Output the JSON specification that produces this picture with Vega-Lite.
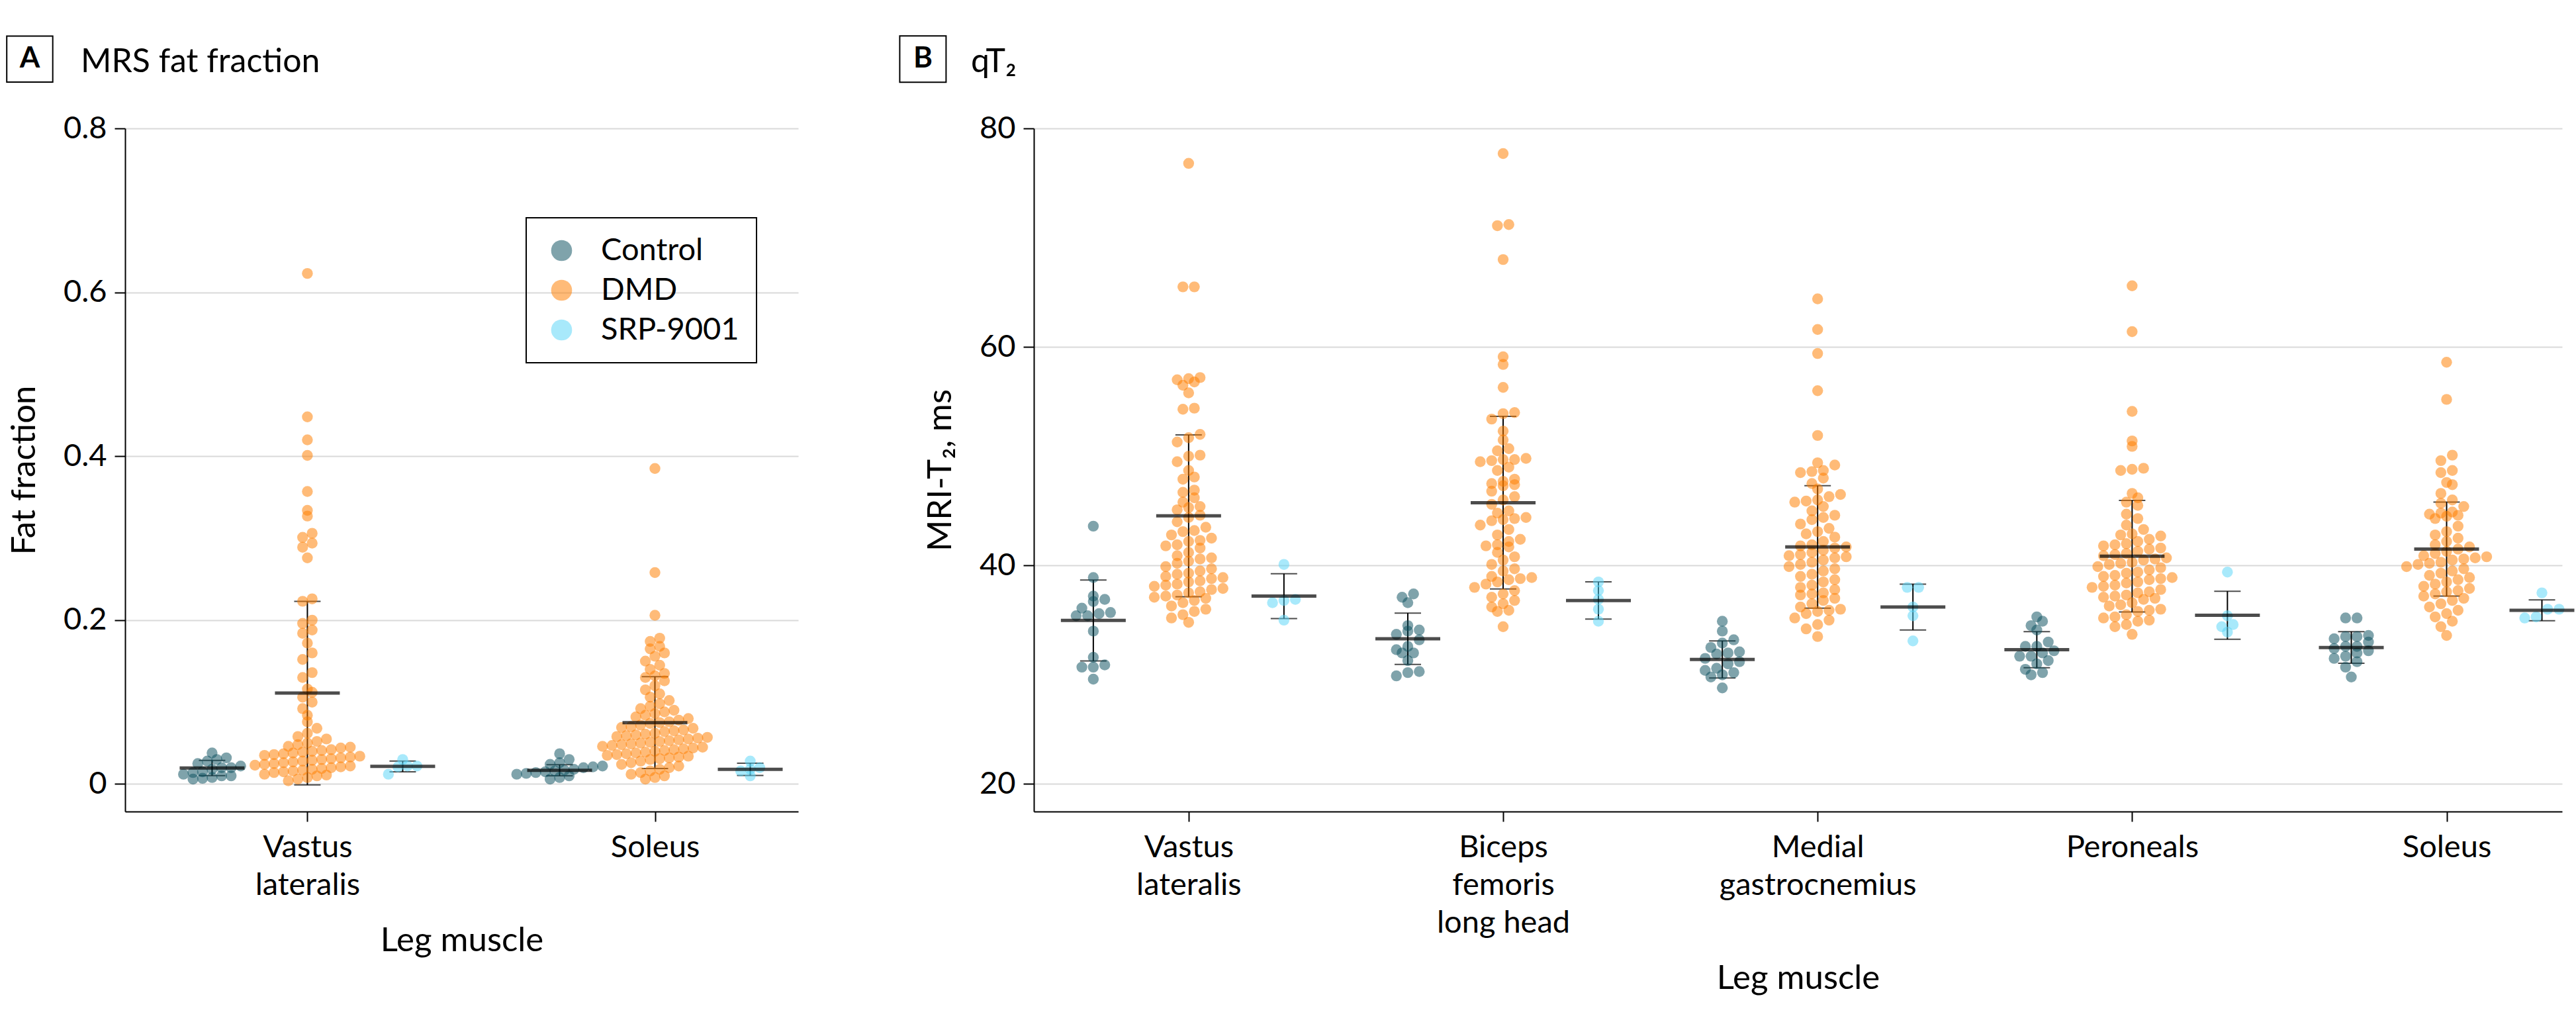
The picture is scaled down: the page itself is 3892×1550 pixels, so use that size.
{
 "$schema": "https://vega.github.io/schema/vega-lite/v6.json",
 "background": "white",
 "padding": {"left": 6, "top": 50, "right": 8, "bottom": 8},
 "bounds": "flush",
 "spacing": 356,
 "config": {
  "font": "Lato",
  "view": {"stroke": null},
  "axis": {"labelFontSize": 47, "titleFontSize": 51, "labelColor": "#000", "titleColor": "#000", "titleFontWeight": "normal", "domainColor": "#000", "domainWidth": 2, "tickColor": "#000", "tickWidth": 2, "gridColor": "#d9d9d9", "gridWidth": 2, "labelOverlap": false, "labelLimit": 1000},
  "axisX": {"grid": false, "tickSize": 15, "labelPadding": 16, "labelLineHeight": 57, "labelAngle": 0, "titlePadding": 36},
  "axisY": {"grid": true, "tickSize": 16, "labelPadding": 12, "titlePadding": 32, "labelFlush": false},
  "legend": {"strokeWidth": 2}
 },
 "resolve": {"scale": {"color": "independent"}, "legend": {"color": "independent"}},
 "datasets": {
  "statsA": [
   {"muscle": "Vastus lateralis", "group": "Control", "mean": 0.0195, "sd": 0.0093},
   {"muscle": "Vastus lateralis", "group": "DMD", "mean": 0.111, "sd": 0.112},
   {"muscle": "Vastus lateralis", "group": "SRP-9001", "mean": 0.0215, "sd": 0.0065},
   {"muscle": "Soleus", "group": "Control", "mean": 0.0168, "sd": 0.0068},
   {"muscle": "Soleus", "group": "DMD", "mean": 0.075, "sd": 0.056},
   {"muscle": "Soleus", "group": "SRP-9001", "mean": 0.018, "sd": 0.0075}
  ],
  "statsB": [
   {"muscle": "Vastus lateralis", "group": "Control", "mean": 34.97, "sd": 3.7},
   {"muscle": "Vastus lateralis", "group": "DMD", "mean": 44.55, "sd": 7.4},
   {"muscle": "Vastus lateralis", "group": "SRP-9001", "mean": 37.2, "sd": 2.05},
   {"muscle": "Biceps femoris long head", "group": "Control", "mean": 33.3, "sd": 2.35},
   {"muscle": "Biceps femoris long head", "group": "DMD", "mean": 45.75, "sd": 7.9},
   {"muscle": "Biceps femoris long head", "group": "SRP-9001", "mean": 36.8, "sd": 1.7},
   {"muscle": "Medial gastrocnemius", "group": "Control", "mean": 31.4, "sd": 1.7},
   {"muscle": "Medial gastrocnemius", "group": "DMD", "mean": 41.7, "sd": 5.6},
   {"muscle": "Medial gastrocnemius", "group": "SRP-9001", "mean": 36.2, "sd": 2.1},
   {"muscle": "Peroneals", "group": "Control", "mean": 32.3, "sd": 1.65},
   {"muscle": "Peroneals", "group": "DMD", "mean": 40.85, "sd": 5.1},
   {"muscle": "Peroneals", "group": "SRP-9001", "mean": 35.45, "sd": 2.2},
   {"muscle": "Soleus", "group": "Control", "mean": 32.5, "sd": 1.45},
   {"muscle": "Soleus", "group": "DMD", "mean": 41.5, "sd": 4.3},
   {"muscle": "Soleus", "group": "SRP-9001", "mean": 35.9, "sd": 0.95}
  ],
  "fatFraction": [
   {"muscle":"Vastus lateralis","group":"Control","value":0.038},
   {"muscle":"Vastus lateralis","group":"Control","value":0.032},
   {"muscle":"Vastus lateralis","group":"Control","value":0.03},
   {"muscle":"Vastus lateralis","group":"Control","value":0.028},
   {"muscle":"Vastus lateralis","group":"Control","value":0.025},
   {"muscle":"Vastus lateralis","group":"Control","value":0.022},
   {"muscle":"Vastus lateralis","group":"Control","value":0.02},
   {"muscle":"Vastus lateralis","group":"Control","value":0.02},
   {"muscle":"Vastus lateralis","group":"Control","value":0.018},
   {"muscle":"Vastus lateralis","group":"Control","value":0.015},
   {"muscle":"Vastus lateralis","group":"Control","value":0.014},
   {"muscle":"Vastus lateralis","group":"Control","value":0.012},
   {"muscle":"Vastus lateralis","group":"Control","value":0.01},
   {"muscle":"Vastus lateralis","group":"Control","value":0.01},
   {"muscle":"Vastus lateralis","group":"Control","value":0.008},
   {"muscle":"Vastus lateralis","group":"Control","value":0.007},
   {"muscle":"Vastus lateralis","group":"Control","value":0.006},
   {"muscle":"Vastus lateralis","group":"DMD","value":0.623},
   {"muscle":"Vastus lateralis","group":"DMD","value":0.448},
   {"muscle":"Vastus lateralis","group":"DMD","value":0.42},
   {"muscle":"Vastus lateralis","group":"DMD","value":0.401},
   {"muscle":"Vastus lateralis","group":"DMD","value":0.357},
   {"muscle":"Vastus lateralis","group":"DMD","value":0.334},
   {"muscle":"Vastus lateralis","group":"DMD","value":0.327},
   {"muscle":"Vastus lateralis","group":"DMD","value":0.306},
   {"muscle":"Vastus lateralis","group":"DMD","value":0.301},
   {"muscle":"Vastus lateralis","group":"DMD","value":0.294},
   {"muscle":"Vastus lateralis","group":"DMD","value":0.289},
   {"muscle":"Vastus lateralis","group":"DMD","value":0.276},
   {"muscle":"Vastus lateralis","group":"DMD","value":0.226},
   {"muscle":"Vastus lateralis","group":"DMD","value":0.223},
   {"muscle":"Vastus lateralis","group":"DMD","value":0.2},
   {"muscle":"Vastus lateralis","group":"DMD","value":0.196},
   {"muscle":"Vastus lateralis","group":"DMD","value":0.188},
   {"muscle":"Vastus lateralis","group":"DMD","value":0.184},
   {"muscle":"Vastus lateralis","group":"DMD","value":0.172},
   {"muscle":"Vastus lateralis","group":"DMD","value":0.16},
   {"muscle":"Vastus lateralis","group":"DMD","value":0.152},
   {"muscle":"Vastus lateralis","group":"DMD","value":0.136},
   {"muscle":"Vastus lateralis","group":"DMD","value":0.13},
   {"muscle":"Vastus lateralis","group":"DMD","value":0.116},
   {"muscle":"Vastus lateralis","group":"DMD","value":0.112},
   {"muscle":"Vastus lateralis","group":"DMD","value":0.106},
   {"muscle":"Vastus lateralis","group":"DMD","value":0.1},
   {"muscle":"Vastus lateralis","group":"DMD","value":0.092},
   {"muscle":"Vastus lateralis","group":"DMD","value":0.084},
   {"muscle":"Vastus lateralis","group":"DMD","value":0.076},
   {"muscle":"Vastus lateralis","group":"DMD","value":0.068},
   {"muscle":"Vastus lateralis","group":"DMD","value":0.062},
   {"muscle":"Vastus lateralis","group":"DMD","value":0.058},
   {"muscle":"Vastus lateralis","group":"DMD","value":0.055},
   {"muscle":"Vastus lateralis","group":"DMD","value":0.052},
   {"muscle":"Vastus lateralis","group":"DMD","value":0.05},
   {"muscle":"Vastus lateralis","group":"DMD","value":0.048},
   {"muscle":"Vastus lateralis","group":"DMD","value":0.046},
   {"muscle":"Vastus lateralis","group":"DMD","value":0.045},
   {"muscle":"Vastus lateralis","group":"DMD","value":0.044},
   {"muscle":"Vastus lateralis","group":"DMD","value":0.042},
   {"muscle":"Vastus lateralis","group":"DMD","value":0.041},
   {"muscle":"Vastus lateralis","group":"DMD","value":0.04},
   {"muscle":"Vastus lateralis","group":"DMD","value":0.039},
   {"muscle":"Vastus lateralis","group":"DMD","value":0.038},
   {"muscle":"Vastus lateralis","group":"DMD","value":0.037},
   {"muscle":"Vastus lateralis","group":"DMD","value":0.036},
   {"muscle":"Vastus lateralis","group":"DMD","value":0.035},
   {"muscle":"Vastus lateralis","group":"DMD","value":0.034},
   {"muscle":"Vastus lateralis","group":"DMD","value":0.033},
   {"muscle":"Vastus lateralis","group":"DMD","value":0.032},
   {"muscle":"Vastus lateralis","group":"DMD","value":0.031},
   {"muscle":"Vastus lateralis","group":"DMD","value":0.03},
   {"muscle":"Vastus lateralis","group":"DMD","value":0.029},
   {"muscle":"Vastus lateralis","group":"DMD","value":0.028},
   {"muscle":"Vastus lateralis","group":"DMD","value":0.027},
   {"muscle":"Vastus lateralis","group":"DMD","value":0.026},
   {"muscle":"Vastus lateralis","group":"DMD","value":0.025},
   {"muscle":"Vastus lateralis","group":"DMD","value":0.024},
   {"muscle":"Vastus lateralis","group":"DMD","value":0.023},
   {"muscle":"Vastus lateralis","group":"DMD","value":0.022},
   {"muscle":"Vastus lateralis","group":"DMD","value":0.021},
   {"muscle":"Vastus lateralis","group":"DMD","value":0.02},
   {"muscle":"Vastus lateralis","group":"DMD","value":0.019},
   {"muscle":"Vastus lateralis","group":"DMD","value":0.018},
   {"muscle":"Vastus lateralis","group":"DMD","value":0.017},
   {"muscle":"Vastus lateralis","group":"DMD","value":0.016},
   {"muscle":"Vastus lateralis","group":"DMD","value":0.015},
   {"muscle":"Vastus lateralis","group":"DMD","value":0.014},
   {"muscle":"Vastus lateralis","group":"DMD","value":0.012},
   {"muscle":"Vastus lateralis","group":"DMD","value":0.011},
   {"muscle":"Vastus lateralis","group":"DMD","value":0.01},
   {"muscle":"Vastus lateralis","group":"DMD","value":0.008},
   {"muscle":"Vastus lateralis","group":"DMD","value":0.006},
   {"muscle":"Vastus lateralis","group":"DMD","value":0.004},
   {"muscle":"Vastus lateralis","group":"SRP-9001","value":0.03},
   {"muscle":"Vastus lateralis","group":"SRP-9001","value":0.012},
   {"muscle":"Vastus lateralis","group":"SRP-9001","value":0.022},
   {"muscle":"Vastus lateralis","group":"SRP-9001","value":0.021},
   {"muscle":"Vastus lateralis","group":"SRP-9001","value":0.022},
   {"muscle":"Soleus","group":"Control","value":0.037},
   {"muscle":"Soleus","group":"Control","value":0.03},
   {"muscle":"Soleus","group":"Control","value":0.026},
   {"muscle":"Soleus","group":"Control","value":0.024},
   {"muscle":"Soleus","group":"Control","value":0.022},
   {"muscle":"Soleus","group":"Control","value":0.021},
   {"muscle":"Soleus","group":"Control","value":0.02},
   {"muscle":"Soleus","group":"Control","value":0.018},
   {"muscle":"Soleus","group":"Control","value":0.017},
   {"muscle":"Soleus","group":"Control","value":0.016},
   {"muscle":"Soleus","group":"Control","value":0.015},
   {"muscle":"Soleus","group":"Control","value":0.014},
   {"muscle":"Soleus","group":"Control","value":0.013},
   {"muscle":"Soleus","group":"Control","value":0.012},
   {"muscle":"Soleus","group":"Control","value":0.01},
   {"muscle":"Soleus","group":"Control","value":0.008},
   {"muscle":"Soleus","group":"Control","value":0.006},
   {"muscle":"Soleus","group":"DMD","value":0.385},
   {"muscle":"Soleus","group":"DMD","value":0.258},
   {"muscle":"Soleus","group":"DMD","value":0.206},
   {"muscle":"Soleus","group":"DMD","value":0.178},
   {"muscle":"Soleus","group":"DMD","value":0.174},
   {"muscle":"Soleus","group":"DMD","value":0.168},
   {"muscle":"Soleus","group":"DMD","value":0.165},
   {"muscle":"Soleus","group":"DMD","value":0.16},
   {"muscle":"Soleus","group":"DMD","value":0.156},
   {"muscle":"Soleus","group":"DMD","value":0.15},
   {"muscle":"Soleus","group":"DMD","value":0.145},
   {"muscle":"Soleus","group":"DMD","value":0.14},
   {"muscle":"Soleus","group":"DMD","value":0.135},
   {"muscle":"Soleus","group":"DMD","value":0.132},
   {"muscle":"Soleus","group":"DMD","value":0.13},
   {"muscle":"Soleus","group":"DMD","value":0.126},
   {"muscle":"Soleus","group":"DMD","value":0.12},
   {"muscle":"Soleus","group":"DMD","value":0.115},
   {"muscle":"Soleus","group":"DMD","value":0.11},
   {"muscle":"Soleus","group":"DMD","value":0.106},
   {"muscle":"Soleus","group":"DMD","value":0.102},
   {"muscle":"Soleus","group":"DMD","value":0.098},
   {"muscle":"Soleus","group":"DMD","value":0.095},
   {"muscle":"Soleus","group":"DMD","value":0.092},
   {"muscle":"Soleus","group":"DMD","value":0.09},
   {"muscle":"Soleus","group":"DMD","value":0.088},
   {"muscle":"Soleus","group":"DMD","value":0.086},
   {"muscle":"Soleus","group":"DMD","value":0.084},
   {"muscle":"Soleus","group":"DMD","value":0.082},
   {"muscle":"Soleus","group":"DMD","value":0.08},
   {"muscle":"Soleus","group":"DMD","value":0.078},
   {"muscle":"Soleus","group":"DMD","value":0.076},
   {"muscle":"Soleus","group":"DMD","value":0.075},
   {"muscle":"Soleus","group":"DMD","value":0.074},
   {"muscle":"Soleus","group":"DMD","value":0.072},
   {"muscle":"Soleus","group":"DMD","value":0.07},
   {"muscle":"Soleus","group":"DMD","value":0.069},
   {"muscle":"Soleus","group":"DMD","value":0.068},
   {"muscle":"Soleus","group":"DMD","value":0.066},
   {"muscle":"Soleus","group":"DMD","value":0.065},
   {"muscle":"Soleus","group":"DMD","value":0.064},
   {"muscle":"Soleus","group":"DMD","value":0.062},
   {"muscle":"Soleus","group":"DMD","value":0.061},
   {"muscle":"Soleus","group":"DMD","value":0.06},
   {"muscle":"Soleus","group":"DMD","value":0.059},
   {"muscle":"Soleus","group":"DMD","value":0.058},
   {"muscle":"Soleus","group":"DMD","value":0.057},
   {"muscle":"Soleus","group":"DMD","value":0.056},
   {"muscle":"Soleus","group":"DMD","value":0.055},
   {"muscle":"Soleus","group":"DMD","value":0.054},
   {"muscle":"Soleus","group":"DMD","value":0.053},
   {"muscle":"Soleus","group":"DMD","value":0.052},
   {"muscle":"Soleus","group":"DMD","value":0.051},
   {"muscle":"Soleus","group":"DMD","value":0.05},
   {"muscle":"Soleus","group":"DMD","value":0.049},
   {"muscle":"Soleus","group":"DMD","value":0.048},
   {"muscle":"Soleus","group":"DMD","value":0.047},
   {"muscle":"Soleus","group":"DMD","value":0.046},
   {"muscle":"Soleus","group":"DMD","value":0.045},
   {"muscle":"Soleus","group":"DMD","value":0.044},
   {"muscle":"Soleus","group":"DMD","value":0.043},
   {"muscle":"Soleus","group":"DMD","value":0.042},
   {"muscle":"Soleus","group":"DMD","value":0.041},
   {"muscle":"Soleus","group":"DMD","value":0.04},
   {"muscle":"Soleus","group":"DMD","value":0.039},
   {"muscle":"Soleus","group":"DMD","value":0.038},
   {"muscle":"Soleus","group":"DMD","value":0.037},
   {"muscle":"Soleus","group":"DMD","value":0.036},
   {"muscle":"Soleus","group":"DMD","value":0.035},
   {"muscle":"Soleus","group":"DMD","value":0.034},
   {"muscle":"Soleus","group":"DMD","value":0.033},
   {"muscle":"Soleus","group":"DMD","value":0.032},
   {"muscle":"Soleus","group":"DMD","value":0.031},
   {"muscle":"Soleus","group":"DMD","value":0.03},
   {"muscle":"Soleus","group":"DMD","value":0.028},
   {"muscle":"Soleus","group":"DMD","value":0.026},
   {"muscle":"Soleus","group":"DMD","value":0.024},
   {"muscle":"Soleus","group":"DMD","value":0.022},
   {"muscle":"Soleus","group":"DMD","value":0.02},
   {"muscle":"Soleus","group":"DMD","value":0.018},
   {"muscle":"Soleus","group":"DMD","value":0.016},
   {"muscle":"Soleus","group":"DMD","value":0.014},
   {"muscle":"Soleus","group":"DMD","value":0.012},
   {"muscle":"Soleus","group":"DMD","value":0.01},
   {"muscle":"Soleus","group":"DMD","value":0.008},
   {"muscle":"Soleus","group":"DMD","value":0.006},
   {"muscle":"Soleus","group":"SRP-9001","value":0.028},
   {"muscle":"Soleus","group":"SRP-9001","value":0.01},
   {"muscle":"Soleus","group":"SRP-9001","value":0.02},
   {"muscle":"Soleus","group":"SRP-9001","value":0.016},
   {"muscle":"Soleus","group":"SRP-9001","value":0.018}
  ],
  "t2": [
   {"muscle":"Vastus lateralis","group":"Control","value":43.6},
   {"muscle":"Vastus lateralis","group":"Control","value":38.9},
   {"muscle":"Vastus lateralis","group":"Control","value":37.2},
   {"muscle":"Vastus lateralis","group":"Control","value":36.9},
   {"muscle":"Vastus lateralis","group":"Control","value":36.7},
   {"muscle":"Vastus lateralis","group":"Control","value":36.1},
   {"muscle":"Vastus lateralis","group":"Control","value":35.7},
   {"muscle":"Vastus lateralis","group":"Control","value":35.6},
   {"muscle":"Vastus lateralis","group":"Control","value":35.4},
   {"muscle":"Vastus lateralis","group":"Control","value":35.4},
   {"muscle":"Vastus lateralis","group":"Control","value":34.0},
   {"muscle":"Vastus lateralis","group":"Control","value":31.6},
   {"muscle":"Vastus lateralis","group":"Control","value":30.9},
   {"muscle":"Vastus lateralis","group":"Control","value":30.7},
   {"muscle":"Vastus lateralis","group":"Control","value":30.7},
   {"muscle":"Vastus lateralis","group":"Control","value":29.6},
   {"muscle":"Vastus lateralis","group":"DMD","value":76.8},
   {"muscle":"Vastus lateralis","group":"DMD","value":65.5},
   {"muscle":"Vastus lateralis","group":"DMD","value":65.5},
   {"muscle":"Vastus lateralis","group":"DMD","value":57.2},
   {"muscle":"Vastus lateralis","group":"DMD","value":57.1},
   {"muscle":"Vastus lateralis","group":"DMD","value":57.0},
   {"muscle":"Vastus lateralis","group":"DMD","value":56.8},
   {"muscle":"Vastus lateralis","group":"DMD","value":56.5},
   {"muscle":"Vastus lateralis","group":"DMD","value":55.8},
   {"muscle":"Vastus lateralis","group":"DMD","value":54.4},
   {"muscle":"Vastus lateralis","group":"DMD","value":54.3},
   {"muscle":"Vastus lateralis","group":"DMD","value":52.0},
   {"muscle":"Vastus lateralis","group":"DMD","value":51.7},
   {"muscle":"Vastus lateralis","group":"DMD","value":51.3},
   {"muscle":"Vastus lateralis","group":"DMD","value":50.1},
   {"muscle":"Vastus lateralis","group":"DMD","value":50.0},
   {"muscle":"Vastus lateralis","group":"DMD","value":49.5},
   {"muscle":"Vastus lateralis","group":"DMD","value":48.7},
   {"muscle":"Vastus lateralis","group":"DMD","value":48.1},
   {"muscle":"Vastus lateralis","group":"DMD","value":47.9},
   {"muscle":"Vastus lateralis","group":"DMD","value":46.9},
   {"muscle":"Vastus lateralis","group":"DMD","value":46.7},
   {"muscle":"Vastus lateralis","group":"DMD","value":46.2},
   {"muscle":"Vastus lateralis","group":"DMD","value":45.8},
   {"muscle":"Vastus lateralis","group":"DMD","value":45.4},
   {"muscle":"Vastus lateralis","group":"DMD","value":45.3},
   {"muscle":"Vastus lateralis","group":"DMD","value":45.1},
   {"muscle":"Vastus lateralis","group":"DMD","value":44.6},
   {"muscle":"Vastus lateralis","group":"DMD","value":44.4},
   {"muscle":"Vastus lateralis","group":"DMD","value":44.0},
   {"muscle":"Vastus lateralis","group":"DMD","value":43.5},
   {"muscle":"Vastus lateralis","group":"DMD","value":43.2},
   {"muscle":"Vastus lateralis","group":"DMD","value":43.1},
   {"muscle":"Vastus lateralis","group":"DMD","value":42.8},
   {"muscle":"Vastus lateralis","group":"DMD","value":42.5},
   {"muscle":"Vastus lateralis","group":"DMD","value":42.3},
   {"muscle":"Vastus lateralis","group":"DMD","value":42.2},
   {"muscle":"Vastus lateralis","group":"DMD","value":41.9},
   {"muscle":"Vastus lateralis","group":"DMD","value":41.8},
   {"muscle":"Vastus lateralis","group":"DMD","value":41.6},
   {"muscle":"Vastus lateralis","group":"DMD","value":41.2},
   {"muscle":"Vastus lateralis","group":"DMD","value":40.9},
   {"muscle":"Vastus lateralis","group":"DMD","value":40.7},
   {"muscle":"Vastus lateralis","group":"DMD","value":40.6},
   {"muscle":"Vastus lateralis","group":"DMD","value":40.4},
   {"muscle":"Vastus lateralis","group":"DMD","value":40.2},
   {"muscle":"Vastus lateralis","group":"DMD","value":39.9},
   {"muscle":"Vastus lateralis","group":"DMD","value":39.7},
   {"muscle":"Vastus lateralis","group":"DMD","value":39.5},
   {"muscle":"Vastus lateralis","group":"DMD","value":39.3},
   {"muscle":"Vastus lateralis","group":"DMD","value":39.2},
   {"muscle":"Vastus lateralis","group":"DMD","value":39.0},
   {"muscle":"Vastus lateralis","group":"DMD","value":38.9},
   {"muscle":"Vastus lateralis","group":"DMD","value":38.8},
   {"muscle":"Vastus lateralis","group":"DMD","value":38.6},
   {"muscle":"Vastus lateralis","group":"DMD","value":38.5},
   {"muscle":"Vastus lateralis","group":"DMD","value":38.3},
   {"muscle":"Vastus lateralis","group":"DMD","value":38.2},
   {"muscle":"Vastus lateralis","group":"DMD","value":38.1},
   {"muscle":"Vastus lateralis","group":"DMD","value":37.9},
   {"muscle":"Vastus lateralis","group":"DMD","value":37.8},
   {"muscle":"Vastus lateralis","group":"DMD","value":37.6},
   {"muscle":"Vastus lateralis","group":"DMD","value":37.5},
   {"muscle":"Vastus lateralis","group":"DMD","value":37.3},
   {"muscle":"Vastus lateralis","group":"DMD","value":37.2},
   {"muscle":"Vastus lateralis","group":"DMD","value":37.1},
   {"muscle":"Vastus lateralis","group":"DMD","value":37.0},
   {"muscle":"Vastus lateralis","group":"DMD","value":36.8},
   {"muscle":"Vastus lateralis","group":"DMD","value":36.6},
   {"muscle":"Vastus lateralis","group":"DMD","value":36.3},
   {"muscle":"Vastus lateralis","group":"DMD","value":36.0},
   {"muscle":"Vastus lateralis","group":"DMD","value":35.8},
   {"muscle":"Vastus lateralis","group":"DMD","value":35.5},
   {"muscle":"Vastus lateralis","group":"DMD","value":35.2},
   {"muscle":"Vastus lateralis","group":"DMD","value":34.8},
   {"muscle":"Vastus lateralis","group":"SRP-9001","value":40.1},
   {"muscle":"Vastus lateralis","group":"SRP-9001","value":36.8},
   {"muscle":"Vastus lateralis","group":"SRP-9001","value":36.6},
   {"muscle":"Vastus lateralis","group":"SRP-9001","value":35.0},
   {"muscle":"Vastus lateralis","group":"SRP-9001","value":36.9},
   {"muscle":"Biceps femoris long head","group":"Control","value":37.4},
   {"muscle":"Biceps femoris long head","group":"Control","value":37.1},
   {"muscle":"Biceps femoris long head","group":"Control","value":36.6},
   {"muscle":"Biceps femoris long head","group":"Control","value":34.5},
   {"muscle":"Biceps femoris long head","group":"Control","value":34.1},
   {"muscle":"Biceps femoris long head","group":"Control","value":34.0},
   {"muscle":"Biceps femoris long head","group":"Control","value":33.7},
   {"muscle":"Biceps femoris long head","group":"Control","value":33.2},
   {"muscle":"Biceps femoris long head","group":"Control","value":32.6},
   {"muscle":"Biceps femoris long head","group":"Control","value":32.3},
   {"muscle":"Biceps femoris long head","group":"Control","value":32.0},
   {"muscle":"Biceps femoris long head","group":"Control","value":32.0},
   {"muscle":"Biceps femoris long head","group":"Control","value":31.3},
   {"muscle":"Biceps femoris long head","group":"Control","value":30.3},
   {"muscle":"Biceps femoris long head","group":"Control","value":30.2},
   {"muscle":"Biceps femoris long head","group":"Control","value":29.9},
   {"muscle":"Biceps femoris long head","group":"DMD","value":77.7},
   {"muscle":"Biceps femoris long head","group":"DMD","value":71.2},
   {"muscle":"Biceps femoris long head","group":"DMD","value":71.1},
   {"muscle":"Biceps femoris long head","group":"DMD","value":68.0},
   {"muscle":"Biceps femoris long head","group":"DMD","value":59.1},
   {"muscle":"Biceps femoris long head","group":"DMD","value":58.4},
   {"muscle":"Biceps femoris long head","group":"DMD","value":56.3},
   {"muscle":"Biceps femoris long head","group":"DMD","value":54.0},
   {"muscle":"Biceps femoris long head","group":"DMD","value":53.9},
   {"muscle":"Biceps femoris long head","group":"DMD","value":53.4},
   {"muscle":"Biceps femoris long head","group":"DMD","value":52.3},
   {"muscle":"Biceps femoris long head","group":"DMD","value":51.5},
   {"muscle":"Biceps femoris long head","group":"DMD","value":50.7},
   {"muscle":"Biceps femoris long head","group":"DMD","value":50.5},
   {"muscle":"Biceps femoris long head","group":"DMD","value":49.8},
   {"muscle":"Biceps femoris long head","group":"DMD","value":49.7},
   {"muscle":"Biceps femoris long head","group":"DMD","value":49.7},
   {"muscle":"Biceps femoris long head","group":"DMD","value":49.6},
   {"muscle":"Biceps femoris long head","group":"DMD","value":49.5},
   {"muscle":"Biceps femoris long head","group":"DMD","value":49.0},
   {"muscle":"Biceps femoris long head","group":"DMD","value":48.7},
   {"muscle":"Biceps femoris long head","group":"DMD","value":47.9},
   {"muscle":"Biceps femoris long head","group":"DMD","value":47.7},
   {"muscle":"Biceps femoris long head","group":"DMD","value":47.5},
   {"muscle":"Biceps femoris long head","group":"DMD","value":47.4},
   {"muscle":"Biceps femoris long head","group":"DMD","value":47.3},
   {"muscle":"Biceps femoris long head","group":"DMD","value":46.8},
   {"muscle":"Biceps femoris long head","group":"DMD","value":46.3},
   {"muscle":"Biceps femoris long head","group":"DMD","value":46.0},
   {"muscle":"Biceps femoris long head","group":"DMD","value":45.6},
   {"muscle":"Biceps femoris long head","group":"DMD","value":45.0},
   {"muscle":"Biceps femoris long head","group":"DMD","value":44.8},
   {"muscle":"Biceps femoris long head","group":"DMD","value":44.4},
   {"muscle":"Biceps femoris long head","group":"DMD","value":44.3},
   {"muscle":"Biceps femoris long head","group":"DMD","value":44.2},
   {"muscle":"Biceps femoris long head","group":"DMD","value":44.1},
   {"muscle":"Biceps femoris long head","group":"DMD","value":43.7},
   {"muscle":"Biceps femoris long head","group":"DMD","value":43.3},
   {"muscle":"Biceps femoris long head","group":"DMD","value":42.8},
   {"muscle":"Biceps femoris long head","group":"DMD","value":42.4},
   {"muscle":"Biceps femoris long head","group":"DMD","value":42.2},
   {"muscle":"Biceps femoris long head","group":"DMD","value":41.9},
   {"muscle":"Biceps femoris long head","group":"DMD","value":41.8},
   {"muscle":"Biceps femoris long head","group":"DMD","value":41.7},
   {"muscle":"Biceps femoris long head","group":"DMD","value":41.2},
   {"muscle":"Biceps femoris long head","group":"DMD","value":40.8},
   {"muscle":"Biceps femoris long head","group":"DMD","value":40.5},
   {"muscle":"Biceps femoris long head","group":"DMD","value":40.1},
   {"muscle":"Biceps femoris long head","group":"DMD","value":39.7},
   {"muscle":"Biceps femoris long head","group":"DMD","value":39.5},
   {"muscle":"Biceps femoris long head","group":"DMD","value":39.0},
   {"muscle":"Biceps femoris long head","group":"DMD","value":38.9},
   {"muscle":"Biceps femoris long head","group":"DMD","value":38.8},
   {"muscle":"Biceps femoris long head","group":"DMD","value":38.7},
   {"muscle":"Biceps femoris long head","group":"DMD","value":38.5},
   {"muscle":"Biceps femoris long head","group":"DMD","value":38.3},
   {"muscle":"Biceps femoris long head","group":"DMD","value":38.0},
   {"muscle":"Biceps femoris long head","group":"DMD","value":37.7},
   {"muscle":"Biceps femoris long head","group":"DMD","value":37.4},
   {"muscle":"Biceps femoris long head","group":"DMD","value":37.1},
   {"muscle":"Biceps femoris long head","group":"DMD","value":36.8},
   {"muscle":"Biceps femoris long head","group":"DMD","value":36.5},
   {"muscle":"Biceps femoris long head","group":"DMD","value":36.2},
   {"muscle":"Biceps femoris long head","group":"DMD","value":35.9},
   {"muscle":"Biceps femoris long head","group":"DMD","value":35.8},
   {"muscle":"Biceps femoris long head","group":"DMD","value":34.4},
   {"muscle":"Biceps femoris long head","group":"SRP-9001","value":38.5},
   {"muscle":"Biceps femoris long head","group":"SRP-9001","value":37.7},
   {"muscle":"Biceps femoris long head","group":"SRP-9001","value":36.0},
   {"muscle":"Biceps femoris long head","group":"SRP-9001","value":34.9},
   {"muscle":"Biceps femoris long head","group":"SRP-9001","value":36.9},
   {"muscle":"Medial gastrocnemius","group":"Control","value":34.9},
   {"muscle":"Medial gastrocnemius","group":"Control","value":34.0},
   {"muscle":"Medial gastrocnemius","group":"Control","value":33.2},
   {"muscle":"Medial gastrocnemius","group":"Control","value":32.9},
   {"muscle":"Medial gastrocnemius","group":"Control","value":32.5},
   {"muscle":"Medial gastrocnemius","group":"Control","value":32.1},
   {"muscle":"Medial gastrocnemius","group":"Control","value":32.0},
   {"muscle":"Medial gastrocnemius","group":"Control","value":31.9},
   {"muscle":"Medial gastrocnemius","group":"Control","value":31.5},
   {"muscle":"Medial gastrocnemius","group":"Control","value":31.2},
   {"muscle":"Medial gastrocnemius","group":"Control","value":31.0},
   {"muscle":"Medial gastrocnemius","group":"Control","value":30.6},
   {"muscle":"Medial gastrocnemius","group":"Control","value":30.4},
   {"muscle":"Medial gastrocnemius","group":"Control","value":30.2},
   {"muscle":"Medial gastrocnemius","group":"Control","value":30.0},
   {"muscle":"Medial gastrocnemius","group":"Control","value":29.8},
   {"muscle":"Medial gastrocnemius","group":"Control","value":28.8},
   {"muscle":"Medial gastrocnemius","group":"DMD","value":64.4},
   {"muscle":"Medial gastrocnemius","group":"DMD","value":61.6},
   {"muscle":"Medial gastrocnemius","group":"DMD","value":59.4},
   {"muscle":"Medial gastrocnemius","group":"DMD","value":56.0},
   {"muscle":"Medial gastrocnemius","group":"DMD","value":51.9},
   {"muscle":"Medial gastrocnemius","group":"DMD","value":49.4},
   {"muscle":"Medial gastrocnemius","group":"DMD","value":49.2},
   {"muscle":"Medial gastrocnemius","group":"DMD","value":48.7},
   {"muscle":"Medial gastrocnemius","group":"DMD","value":48.6},
   {"muscle":"Medial gastrocnemius","group":"DMD","value":48.5},
   {"muscle":"Medial gastrocnemius","group":"DMD","value":48.0},
   {"muscle":"Medial gastrocnemius","group":"DMD","value":47.5},
   {"muscle":"Medial gastrocnemius","group":"DMD","value":47.0},
   {"muscle":"Medial gastrocnemius","group":"DMD","value":46.5},
   {"muscle":"Medial gastrocnemius","group":"DMD","value":46.3},
   {"muscle":"Medial gastrocnemius","group":"DMD","value":46.0},
   {"muscle":"Medial gastrocnemius","group":"DMD","value":45.9},
   {"muscle":"Medial gastrocnemius","group":"DMD","value":45.8},
   {"muscle":"Medial gastrocnemius","group":"DMD","value":45.4},
   {"muscle":"Medial gastrocnemius","group":"DMD","value":45.0},
   {"muscle":"Medial gastrocnemius","group":"DMD","value":44.6},
   {"muscle":"Medial gastrocnemius","group":"DMD","value":44.4},
   {"muscle":"Medial gastrocnemius","group":"DMD","value":44.2},
   {"muscle":"Medial gastrocnemius","group":"DMD","value":43.8},
   {"muscle":"Medial gastrocnemius","group":"DMD","value":43.4},
   {"muscle":"Medial gastrocnemius","group":"DMD","value":43.1},
   {"muscle":"Medial gastrocnemius","group":"DMD","value":42.9},
   {"muscle":"Medial gastrocnemius","group":"DMD","value":42.6},
   {"muscle":"Medial gastrocnemius","group":"DMD","value":42.2},
   {"muscle":"Medial gastrocnemius","group":"DMD","value":41.9},
   {"muscle":"Medial gastrocnemius","group":"DMD","value":41.8},
   {"muscle":"Medial gastrocnemius","group":"DMD","value":41.7},
   {"muscle":"Medial gastrocnemius","group":"DMD","value":41.6},
   {"muscle":"Medial gastrocnemius","group":"DMD","value":41.4},
   {"muscle":"Medial gastrocnemius","group":"DMD","value":41.2},
   {"muscle":"Medial gastrocnemius","group":"DMD","value":41.0},
   {"muscle":"Medial gastrocnemius","group":"DMD","value":40.9},
   {"muscle":"Medial gastrocnemius","group":"DMD","value":40.8},
   {"muscle":"Medial gastrocnemius","group":"DMD","value":40.7},
   {"muscle":"Medial gastrocnemius","group":"DMD","value":40.5},
   {"muscle":"Medial gastrocnemius","group":"DMD","value":40.3},
   {"muscle":"Medial gastrocnemius","group":"DMD","value":40.1},
   {"muscle":"Medial gastrocnemius","group":"DMD","value":39.9},
   {"muscle":"Medial gastrocnemius","group":"DMD","value":39.7},
   {"muscle":"Medial gastrocnemius","group":"DMD","value":39.5},
   {"muscle":"Medial gastrocnemius","group":"DMD","value":39.2},
   {"muscle":"Medial gastrocnemius","group":"DMD","value":39.0},
   {"muscle":"Medial gastrocnemius","group":"DMD","value":38.7},
   {"muscle":"Medial gastrocnemius","group":"DMD","value":38.5},
   {"muscle":"Medial gastrocnemius","group":"DMD","value":38.2},
   {"muscle":"Medial gastrocnemius","group":"DMD","value":38.0},
   {"muscle":"Medial gastrocnemius","group":"DMD","value":37.8},
   {"muscle":"Medial gastrocnemius","group":"DMD","value":37.5},
   {"muscle":"Medial gastrocnemius","group":"DMD","value":37.4},
   {"muscle":"Medial gastrocnemius","group":"DMD","value":37.3},
   {"muscle":"Medial gastrocnemius","group":"DMD","value":37.0},
   {"muscle":"Medial gastrocnemius","group":"DMD","value":36.8},
   {"muscle":"Medial gastrocnemius","group":"DMD","value":36.5},
   {"muscle":"Medial gastrocnemius","group":"DMD","value":36.2},
   {"muscle":"Medial gastrocnemius","group":"DMD","value":36.0},
   {"muscle":"Medial gastrocnemius","group":"DMD","value":35.9},
   {"muscle":"Medial gastrocnemius","group":"DMD","value":35.8},
   {"muscle":"Medial gastrocnemius","group":"DMD","value":35.6},
   {"muscle":"Medial gastrocnemius","group":"DMD","value":35.2},
   {"muscle":"Medial gastrocnemius","group":"DMD","value":35.0},
   {"muscle":"Medial gastrocnemius","group":"DMD","value":34.6},
   {"muscle":"Medial gastrocnemius","group":"DMD","value":34.2},
   {"muscle":"Medial gastrocnemius","group":"DMD","value":33.5},
   {"muscle":"Medial gastrocnemius","group":"SRP-9001","value":38.0},
   {"muscle":"Medial gastrocnemius","group":"SRP-9001","value":38.0},
   {"muscle":"Medial gastrocnemius","group":"SRP-9001","value":36.2},
   {"muscle":"Medial gastrocnemius","group":"SRP-9001","value":35.4},
   {"muscle":"Medial gastrocnemius","group":"SRP-9001","value":33.1},
   {"muscle":"Peroneals","group":"Control","value":35.3},
   {"muscle":"Peroneals","group":"Control","value":34.9},
   {"muscle":"Peroneals","group":"Control","value":34.5},
   {"muscle":"Peroneals","group":"Control","value":34.1},
   {"muscle":"Peroneals","group":"Control","value":33.0},
   {"muscle":"Peroneals","group":"Control","value":32.6},
   {"muscle":"Peroneals","group":"Control","value":32.6},
   {"muscle":"Peroneals","group":"Control","value":32.2},
   {"muscle":"Peroneals","group":"Control","value":32.0},
   {"muscle":"Peroneals","group":"Control","value":31.7},
   {"muscle":"Peroneals","group":"Control","value":31.7},
   {"muscle":"Peroneals","group":"Control","value":31.3},
   {"muscle":"Peroneals","group":"Control","value":31.0},
   {"muscle":"Peroneals","group":"Control","value":30.5},
   {"muscle":"Peroneals","group":"Control","value":30.2},
   {"muscle":"Peroneals","group":"Control","value":30.0},
   {"muscle":"Peroneals","group":"DMD","value":65.6},
   {"muscle":"Peroneals","group":"DMD","value":61.4},
   {"muscle":"Peroneals","group":"DMD","value":54.1},
   {"muscle":"Peroneals","group":"DMD","value":51.4},
   {"muscle":"Peroneals","group":"DMD","value":50.9},
   {"muscle":"Peroneals","group":"DMD","value":48.9},
   {"muscle":"Peroneals","group":"DMD","value":48.8},
   {"muscle":"Peroneals","group":"DMD","value":48.7},
   {"muscle":"Peroneals","group":"DMD","value":46.6},
   {"muscle":"Peroneals","group":"DMD","value":46.2},
   {"muscle":"Peroneals","group":"DMD","value":45.8},
   {"muscle":"Peroneals","group":"DMD","value":45.5},
   {"muscle":"Peroneals","group":"DMD","value":44.7},
   {"muscle":"Peroneals","group":"DMD","value":44.3},
   {"muscle":"Peroneals","group":"DMD","value":43.7},
   {"muscle":"Peroneals","group":"DMD","value":43.3},
   {"muscle":"Peroneals","group":"DMD","value":42.9},
   {"muscle":"Peroneals","group":"DMD","value":42.8},
   {"muscle":"Peroneals","group":"DMD","value":42.7},
   {"muscle":"Peroneals","group":"DMD","value":42.4},
   {"muscle":"Peroneals","group":"DMD","value":42.2},
   {"muscle":"Peroneals","group":"DMD","value":42.0},
   {"muscle":"Peroneals","group":"DMD","value":41.9},
   {"muscle":"Peroneals","group":"DMD","value":41.8},
   {"muscle":"Peroneals","group":"DMD","value":41.6},
   {"muscle":"Peroneals","group":"DMD","value":41.5},
   {"muscle":"Peroneals","group":"DMD","value":41.3},
   {"muscle":"Peroneals","group":"DMD","value":41.1},
   {"muscle":"Peroneals","group":"DMD","value":41.0},
   {"muscle":"Peroneals","group":"DMD","value":40.9},
   {"muscle":"Peroneals","group":"DMD","value":40.7},
   {"muscle":"Peroneals","group":"DMD","value":40.6},
   {"muscle":"Peroneals","group":"DMD","value":40.5},
   {"muscle":"Peroneals","group":"DMD","value":40.3},
   {"muscle":"Peroneals","group":"DMD","value":40.2},
   {"muscle":"Peroneals","group":"DMD","value":40.1},
   {"muscle":"Peroneals","group":"DMD","value":39.9},
   {"muscle":"Peroneals","group":"DMD","value":39.8},
   {"muscle":"Peroneals","group":"DMD","value":39.6},
   {"muscle":"Peroneals","group":"DMD","value":39.4},
   {"muscle":"Peroneals","group":"DMD","value":39.3},
   {"muscle":"Peroneals","group":"DMD","value":39.1},
   {"muscle":"Peroneals","group":"DMD","value":39.0},
   {"muscle":"Peroneals","group":"DMD","value":38.9},
   {"muscle":"Peroneals","group":"DMD","value":38.8},
   {"muscle":"Peroneals","group":"DMD","value":38.7},
   {"muscle":"Peroneals","group":"DMD","value":38.5},
   {"muscle":"Peroneals","group":"DMD","value":38.4},
   {"muscle":"Peroneals","group":"DMD","value":38.2},
   {"muscle":"Peroneals","group":"DMD","value":38.1},
   {"muscle":"Peroneals","group":"DMD","value":38.0},
   {"muscle":"Peroneals","group":"DMD","value":37.8},
   {"muscle":"Peroneals","group":"DMD","value":37.6},
   {"muscle":"Peroneals","group":"DMD","value":37.5},
   {"muscle":"Peroneals","group":"DMD","value":37.3},
   {"muscle":"Peroneals","group":"DMD","value":37.2},
   {"muscle":"Peroneals","group":"DMD","value":37.1},
   {"muscle":"Peroneals","group":"DMD","value":37.0},
   {"muscle":"Peroneals","group":"DMD","value":36.9},
   {"muscle":"Peroneals","group":"DMD","value":36.6},
   {"muscle":"Peroneals","group":"DMD","value":36.4},
   {"muscle":"Peroneals","group":"DMD","value":36.3},
   {"muscle":"Peroneals","group":"DMD","value":36.0},
   {"muscle":"Peroneals","group":"DMD","value":35.9},
   {"muscle":"Peroneals","group":"DMD","value":35.8},
   {"muscle":"Peroneals","group":"DMD","value":35.5},
   {"muscle":"Peroneals","group":"DMD","value":35.3},
   {"muscle":"Peroneals","group":"DMD","value":35.2},
   {"muscle":"Peroneals","group":"DMD","value":35.0},
   {"muscle":"Peroneals","group":"DMD","value":34.9},
   {"muscle":"Peroneals","group":"DMD","value":34.6},
   {"muscle":"Peroneals","group":"DMD","value":34.4},
   {"muscle":"Peroneals","group":"DMD","value":33.7},
   {"muscle":"Peroneals","group":"SRP-9001","value":39.4},
   {"muscle":"Peroneals","group":"SRP-9001","value":35.4},
   {"muscle":"Peroneals","group":"SRP-9001","value":33.9},
   {"muscle":"Peroneals","group":"SRP-9001","value":34.6},
   {"muscle":"Peroneals","group":"SRP-9001","value":34.4},
   {"muscle":"Soleus","group":"Control","value":35.2},
   {"muscle":"Soleus","group":"Control","value":35.2},
   {"muscle":"Soleus","group":"Control","value":33.6},
   {"muscle":"Soleus","group":"Control","value":33.5},
   {"muscle":"Soleus","group":"Control","value":33.5},
   {"muscle":"Soleus","group":"Control","value":33.3},
   {"muscle":"Soleus","group":"Control","value":33.0},
   {"muscle":"Soleus","group":"Control","value":32.6},
   {"muscle":"Soleus","group":"Control","value":32.6},
   {"muscle":"Soleus","group":"Control","value":32.4},
   {"muscle":"Soleus","group":"Control","value":32.2},
   {"muscle":"Soleus","group":"Control","value":32.0},
   {"muscle":"Soleus","group":"Control","value":31.7},
   {"muscle":"Soleus","group":"Control","value":31.5},
   {"muscle":"Soleus","group":"Control","value":31.2},
   {"muscle":"Soleus","group":"Control","value":30.7},
   {"muscle":"Soleus","group":"Control","value":29.8},
   {"muscle":"Soleus","group":"DMD","value":58.6},
   {"muscle":"Soleus","group":"DMD","value":55.2},
   {"muscle":"Soleus","group":"DMD","value":50.1},
   {"muscle":"Soleus","group":"DMD","value":49.6},
   {"muscle":"Soleus","group":"DMD","value":48.7},
   {"muscle":"Soleus","group":"DMD","value":48.5},
   {"muscle":"Soleus","group":"DMD","value":47.6},
   {"muscle":"Soleus","group":"DMD","value":47.4},
   {"muscle":"Soleus","group":"DMD","value":46.6},
   {"muscle":"Soleus","group":"DMD","value":46.0},
   {"muscle":"Soleus","group":"DMD","value":45.7},
   {"muscle":"Soleus","group":"DMD","value":45.4},
   {"muscle":"Soleus","group":"DMD","value":44.9},
   {"muscle":"Soleus","group":"DMD","value":44.8},
   {"muscle":"Soleus","group":"DMD","value":44.7},
   {"muscle":"Soleus","group":"DMD","value":44.6},
   {"muscle":"Soleus","group":"DMD","value":44.5},
   {"muscle":"Soleus","group":"DMD","value":44.3},
   {"muscle":"Soleus","group":"DMD","value":43.6},
   {"muscle":"Soleus","group":"DMD","value":43.1},
   {"muscle":"Soleus","group":"DMD","value":42.8},
   {"muscle":"Soleus","group":"DMD","value":42.5},
   {"muscle":"Soleus","group":"DMD","value":42.2},
   {"muscle":"Soleus","group":"DMD","value":41.9},
   {"muscle":"Soleus","group":"DMD","value":41.7},
   {"muscle":"Soleus","group":"DMD","value":41.5},
   {"muscle":"Soleus","group":"DMD","value":41.3},
   {"muscle":"Soleus","group":"DMD","value":41.1},
   {"muscle":"Soleus","group":"DMD","value":40.9},
   {"muscle":"Soleus","group":"DMD","value":40.8},
   {"muscle":"Soleus","group":"DMD","value":40.7},
   {"muscle":"Soleus","group":"DMD","value":40.6},
   {"muscle":"Soleus","group":"DMD","value":40.5},
   {"muscle":"Soleus","group":"DMD","value":40.3},
   {"muscle":"Soleus","group":"DMD","value":40.2},
   {"muscle":"Soleus","group":"DMD","value":40.1},
   {"muscle":"Soleus","group":"DMD","value":39.9},
   {"muscle":"Soleus","group":"DMD","value":39.7},
   {"muscle":"Soleus","group":"DMD","value":39.5},
   {"muscle":"Soleus","group":"DMD","value":39.3},
   {"muscle":"Soleus","group":"DMD","value":39.1},
   {"muscle":"Soleus","group":"DMD","value":38.9},
   {"muscle":"Soleus","group":"DMD","value":38.7},
   {"muscle":"Soleus","group":"DMD","value":38.5},
   {"muscle":"Soleus","group":"DMD","value":38.3},
   {"muscle":"Soleus","group":"DMD","value":38.1},
   {"muscle":"Soleus","group":"DMD","value":37.9},
   {"muscle":"Soleus","group":"DMD","value":37.7},
   {"muscle":"Soleus","group":"DMD","value":37.6},
   {"muscle":"Soleus","group":"DMD","value":37.4},
   {"muscle":"Soleus","group":"DMD","value":37.2},
   {"muscle":"Soleus","group":"DMD","value":37.0},
   {"muscle":"Soleus","group":"DMD","value":36.8},
   {"muscle":"Soleus","group":"DMD","value":36.5},
   {"muscle":"Soleus","group":"DMD","value":36.2},
   {"muscle":"Soleus","group":"DMD","value":35.9},
   {"muscle":"Soleus","group":"DMD","value":35.6},
   {"muscle":"Soleus","group":"DMD","value":35.3},
   {"muscle":"Soleus","group":"DMD","value":34.9},
   {"muscle":"Soleus","group":"DMD","value":34.4},
   {"muscle":"Soleus","group":"DMD","value":33.6},
   {"muscle":"Soleus","group":"SRP-9001","value":37.5},
   {"muscle":"Soleus","group":"SRP-9001","value":35.2},
   {"muscle":"Soleus","group":"SRP-9001","value":36.0},
   {"muscle":"Soleus","group":"SRP-9001","value":35.3},
   {"muscle":"Soleus","group":"SRP-9001","value":36.0}
  ]
 },
 "hconcat": [
  {
   "width": 1017,
   "height": 1032,
   "layer": [
    {
     "data": {"values": [{"tag": "A", "heading": "MRS fat fraction"}]},
     "layer": [
      {
       "mark": {"type": "point", "shape": "square", "size": 4830, "filled": false, "stroke": "#000", "strokeWidth": 2, "opacity": 1},
       "encoding": {
        "x": {"datum": "Vastus lateralis", "type": "nominal", "scale": {"type": "point", "domain": ["Vastus lateralis", "Soleus"], "padding": 0.4684, "align": 0.5599}, "axis": {"title": "Leg muscle", "labelExpr": "datum.value == 'Vastus lateralis' ? ['Vastus', 'lateralis'] : datum.value"}},
        "xOffset": {"datum": -2.913, "type": "quantitative", "scale": {"domain": [-1, 1], "range": [-144, 144]}},
        "y": {"datum": 0.8846, "type": "quantitative", "scale": {"domain": [-0.03353, 0.8], "nice": false, "zero": false}, "axis": {"title": "Fat fraction", "values": [0, 0.2, 0.4, 0.6, 0.8], "labelExpr": "toString(datum.value)"}}
       }
      },
      {
       "mark": {"type": "text", "fontSize": 44, "fontWeight": "bold", "align": "center", "baseline": "middle", "color": "#000"},
       "encoding": {
        "x": {"datum": "Vastus lateralis", "type": "nominal", "scale": {"type": "point", "domain": ["Vastus lateralis", "Soleus"], "padding": 0.4684, "align": 0.5599}, "axis": {"title": "Leg muscle", "labelExpr": "datum.value == 'Vastus lateralis' ? ['Vastus', 'lateralis'] : datum.value"}},
        "xOffset": {"datum": -2.913, "type": "quantitative", "scale": {"domain": [-1, 1], "range": [-144, 144]}},
        "y": {"datum": 0.8846, "type": "quantitative", "scale": {"domain": [-0.03353, 0.8], "nice": false, "zero": false}, "axis": {"title": "Fat fraction", "values": [0, 0.2, 0.4, 0.6, 0.8], "labelExpr": "toString(datum.value)"}},
        "text": {"field": "tag", "type": "nominal"}
       }
      },
      {
       "mark": {"type": "text", "fontSize": 50, "align": "left", "baseline": "alphabetic", "color": "#000"},
       "encoding": {
        "x": {"datum": "Vastus lateralis", "type": "nominal", "scale": {"type": "point", "domain": ["Vastus lateralis", "Soleus"], "padding": 0.4684, "align": 0.5599}, "axis": {"title": "Leg muscle", "labelExpr": "datum.value == 'Vastus lateralis' ? ['Vastus', 'lateralis'] : datum.value"}},
        "xOffset": {"datum": -2.378, "type": "quantitative", "scale": {"domain": [-1, 1], "range": [-144, 144]}},
        "y": {"datum": 0.8687, "type": "quantitative", "scale": {"domain": [-0.03353, 0.8], "nice": false, "zero": false}, "axis": {"title": "Fat fraction", "values": [0, 0.2, 0.4, 0.6, 0.8], "labelExpr": "toString(datum.value)"}},
        "text": {"field": "heading", "type": "nominal"}
       }
      }
     ]
    },
    {
     "data": {"name": "statsA"},
     "transform": [
      {"calculate": "datum.mean - datum.sd", "as": "lo"},
      {"calculate": "datum.mean + datum.sd", "as": "hi"},
      {"calculate": "datum.group === 'Control' ? -1 : datum.group === 'DMD' ? 0 : 1", "as": "gi"}
     ],
     "layer": [
      {
       "mark": {"type": "rule", "color": "#000", "strokeWidth": 2},
       "encoding": {
        "x": {"field": "muscle", "type": "nominal", "scale": {"type": "point", "domain": ["Vastus lateralis", "Soleus"], "padding": 0.4684, "align": 0.5599}, "axis": {"title": "Leg muscle", "labelExpr": "datum.value == 'Vastus lateralis' ? ['Vastus', 'lateralis'] : datum.value"}},
        "xOffset": {"field": "gi", "type": "quantitative", "scale": {"domain": [-1, 1], "range": [-144, 144]}},
        "y": {"field": "lo", "type": "quantitative", "scale": {"domain": [-0.03353, 0.8], "nice": false, "zero": false}, "axis": {"title": "Fat fraction", "values": [0, 0.2, 0.4, 0.6, 0.8], "labelExpr": "toString(datum.value)"}},
        "y2": {"field": "hi"}
       }
      },
      {
       "mark": {"type": "tick", "orient": "horizontal", "color": "#000", "size": 40, "thickness": 2},
       "encoding": {
        "x": {"field": "muscle", "type": "nominal", "scale": {"type": "point", "domain": ["Vastus lateralis", "Soleus"], "padding": 0.4684, "align": 0.5599}, "axis": {"title": "Leg muscle", "labelExpr": "datum.value == 'Vastus lateralis' ? ['Vastus', 'lateralis'] : datum.value"}},
        "xOffset": {"field": "gi", "type": "quantitative", "scale": {"domain": [-1, 1], "range": [-144, 144]}},
        "y": {"field": "lo", "type": "quantitative", "scale": {"domain": [-0.03353, 0.8], "nice": false, "zero": false}, "axis": {"title": "Fat fraction", "values": [0, 0.2, 0.4, 0.6, 0.8], "labelExpr": "toString(datum.value)"}}
       }
      },
      {
       "mark": {"type": "tick", "orient": "horizontal", "color": "#000", "size": 40, "thickness": 2},
       "encoding": {
        "x": {"field": "muscle", "type": "nominal", "scale": {"type": "point", "domain": ["Vastus lateralis", "Soleus"], "padding": 0.4684, "align": 0.5599}, "axis": {"title": "Leg muscle", "labelExpr": "datum.value == 'Vastus lateralis' ? ['Vastus', 'lateralis'] : datum.value"}},
        "xOffset": {"field": "gi", "type": "quantitative", "scale": {"domain": [-1, 1], "range": [-144, 144]}},
        "y": {"field": "hi", "type": "quantitative", "scale": {"domain": [-0.03353, 0.8], "nice": false, "zero": false}, "axis": {"title": "Fat fraction", "values": [0, 0.2, 0.4, 0.6, 0.8], "labelExpr": "toString(datum.value)"}}
       }
      }
     ]
    },
    {
     "data": {"name": "fatFraction"},
     "transform": [
      {"calculate": "datum.group === 'Control' ? -1 : datum.group === 'DMD' ? 0 : 1", "as": "gi"},
      {"calculate": "floor(datum.value / 0.0115)", "as": "bin"},
      {"window": [{"op": "row_number", "as": "rn"}], "groupby": ["muscle", "group", "bin"], "sort": [{"field": "value", "order": "ascending"}]},
      {"joinaggregate": [{"op": "count", "as": "cnt"}], "groupby": ["muscle", "group", "bin"]},
      {"calculate": "datum.gi + (datum.rn - (datum.cnt + 1) / 2) * 0.1", "as": "off"}
     ],
     "mark": {"type": "circle", "size": 270, "opacity": 0.53},
     "encoding": {
      "x": {"field": "muscle", "type": "nominal", "scale": {"type": "point", "domain": ["Vastus lateralis", "Soleus"], "padding": 0.4684, "align": 0.5599}, "axis": {"title": "Leg muscle", "labelExpr": "datum.value == 'Vastus lateralis' ? ['Vastus', 'lateralis'] : datum.value"}},
      "xOffset": {"field": "off", "type": "quantitative", "scale": {"domain": [-1, 1], "range": [-144, 144]}},
      "y": {"field": "value", "type": "quantitative", "scale": {"domain": [-0.03353, 0.8], "nice": false, "zero": false}, "axis": {"title": "Fat fraction", "values": [0, 0.2, 0.4, 0.6, 0.8], "labelExpr": "toString(datum.value)"}},
      "color": {"field": "group", "type": "nominal",
                "scale": {"domain": ["Control", "DMD", "SRP-9001"], "range": ["#0d5160", "#ff7f00", "#5bd5f7"]},
                "legend": {"title": null, "orient": "none", "legendX": 606, "legendY": 135, "strokeColor": "#000", "padding": 26, "labelFontSize": 47, "labelColor": "#000", "labelLimit": 500, "symbolSize": 1000, "symbolType": "circle", "symbolOpacity": 0.53, "symbolStrokeWidth": 0, "symbolOffset": 4, "labelOffset": 36, "rowPadding": 12}}
     }
    },
    {
     "data": {"name": "statsA"},
     "transform": [
      {"calculate": "datum.group === 'Control' ? -1 : datum.group === 'DMD' ? 0 : 1", "as": "gi"}
     ],
     "mark": {"type": "tick", "orient": "horizontal", "color": "#000", "size": 98, "thickness": 5},
     "encoding": {
      "x": {"field": "muscle", "type": "nominal", "scale": {"type": "point", "domain": ["Vastus lateralis", "Soleus"], "padding": 0.4684, "align": 0.5599}, "axis": {"title": "Leg muscle", "labelExpr": "datum.value == 'Vastus lateralis' ? ['Vastus', 'lateralis'] : datum.value"}},
      "xOffset": {"field": "gi", "type": "quantitative", "scale": {"domain": [-1, 1], "range": [-144, 144]}},
      "y": {"field": "mean", "type": "quantitative", "scale": {"domain": [-0.03353, 0.8], "nice": false, "zero": false}, "axis": {"title": "Fat fraction", "values": [0, 0.2, 0.4, 0.6, 0.8], "labelExpr": "toString(datum.value)"}}
     }
    }
   ]
  },
  {
   "width": 2309,
   "height": 1032,
   "layer": [
    {
     "data": {"values": [{"tag": "B", "heading": "qT₂"}]},
     "layer": [
      {
       "mark": {"type": "point", "shape": "square", "size": 4900, "filled": false, "stroke": "#000", "strokeWidth": 2, "opacity": 1},
       "encoding": {
        "x": {"datum": "Vastus lateralis", "type": "nominal", "scale": {"type": "point", "domain": ["Vastus lateralis", "Biceps femoris long head", "Medial gastrocnemius", "Peroneals", "Soleus"], "padding": 0.4297, "align": 0.5727}, "axis": {"title": "Leg muscle", "labelExpr": "datum.value == 'Vastus lateralis' ? ['Vastus', 'lateralis'] : datum.value == 'Biceps femoris long head' ? ['Biceps', 'femoris', 'long head'] : datum.value == 'Medial gastrocnemius' ? ['Medial', 'gastrocnemius'] : datum.value"}},
        "xOffset": {"datum": -2.788, "type": "quantitative", "scale": {"domain": [-1, 1], "range": [-130, 130]}},
        "y": {"datum": 86.35, "type": "quantitative", "scale": {"domain": [17.486, 80], "nice": false, "zero": false}, "axis": {"title": "MRI-T₂, ms", "values": [20, 40, 60, 80]}}
       }
      },
      {
       "mark": {"type": "text", "fontSize": 44, "fontWeight": "bold", "align": "center", "baseline": "middle", "color": "#000"},
       "encoding": {
        "x": {"datum": "Vastus lateralis", "type": "nominal", "scale": {"type": "point", "domain": ["Vastus lateralis", "Biceps femoris long head", "Medial gastrocnemius", "Peroneals", "Soleus"], "padding": 0.4297, "align": 0.5727}, "axis": {"title": "Leg muscle", "labelExpr": "datum.value == 'Vastus lateralis' ? ['Vastus', 'lateralis'] : datum.value == 'Biceps femoris long head' ? ['Biceps', 'femoris', 'long head'] : datum.value == 'Medial gastrocnemius' ? ['Medial', 'gastrocnemius'] : datum.value"}},
        "xOffset": {"datum": -2.788, "type": "quantitative", "scale": {"domain": [-1, 1], "range": [-130, 130]}},
        "y": {"datum": 86.35, "type": "quantitative", "scale": {"domain": [17.486, 80], "nice": false, "zero": false}, "axis": {"title": "MRI-T₂, ms", "values": [20, 40, 60, 80]}},
        "text": {"field": "tag", "type": "nominal"}
       }
      },
      {
       "mark": {"type": "text", "fontSize": 50, "align": "left", "baseline": "alphabetic", "color": "#000"},
       "encoding": {
        "x": {"datum": "Vastus lateralis", "type": "nominal", "scale": {"type": "point", "domain": ["Vastus lateralis", "Biceps femoris long head", "Medial gastrocnemius", "Peroneals", "Soleus"], "padding": 0.4297, "align": 0.5727}, "axis": {"title": "Leg muscle", "labelExpr": "datum.value == 'Vastus lateralis' ? ['Vastus', 'lateralis'] : datum.value == 'Biceps femoris long head' ? ['Biceps', 'femoris', 'long head'] : datum.value == 'Medial gastrocnemius' ? ['Medial', 'gastrocnemius'] : datum.value"}},
        "xOffset": {"datum": -2.284, "type": "quantitative", "scale": {"domain": [-1, 1], "range": [-130, 130]}},
        "y": {"datum": 85.15, "type": "quantitative", "scale": {"domain": [17.486, 80], "nice": false, "zero": false}, "axis": {"title": "MRI-T₂, ms", "values": [20, 40, 60, 80]}},
        "text": {"field": "heading", "type": "nominal"}
       }
      }
     ]
    },
    {
     "data": {"name": "statsB"},
     "transform": [
      {"calculate": "datum.mean - datum.sd", "as": "lo"},
      {"calculate": "datum.mean + datum.sd", "as": "hi"},
      {"calculate": "datum.group === 'Control' ? -1 : datum.group === 'DMD' ? 0 : 1", "as": "gi"}
     ],
     "layer": [
      {
       "mark": {"type": "rule", "color": "#000", "strokeWidth": 2},
       "encoding": {
        "x": {"field": "muscle", "type": "nominal", "scale": {"type": "point", "domain": ["Vastus lateralis", "Biceps femoris long head", "Medial gastrocnemius", "Peroneals", "Soleus"], "padding": 0.4297, "align": 0.5727}, "axis": {"title": "Leg muscle", "labelExpr": "datum.value == 'Vastus lateralis' ? ['Vastus', 'lateralis'] : datum.value == 'Biceps femoris long head' ? ['Biceps', 'femoris', 'long head'] : datum.value == 'Medial gastrocnemius' ? ['Medial', 'gastrocnemius'] : datum.value"}},
        "xOffset": {"field": "gi", "type": "quantitative", "scale": {"domain": [-1, 1], "range": [-130, 130]}},
        "y": {"field": "lo", "type": "quantitative", "scale": {"domain": [17.486, 80], "nice": false, "zero": false}, "axis": {"title": "MRI-T₂, ms", "values": [20, 40, 60, 80]}},
        "y2": {"field": "hi"}
       }
      },
      {
       "mark": {"type": "tick", "orient": "horizontal", "color": "#000", "size": 40, "thickness": 2},
       "encoding": {
        "x": {"field": "muscle", "type": "nominal", "scale": {"type": "point", "domain": ["Vastus lateralis", "Biceps femoris long head", "Medial gastrocnemius", "Peroneals", "Soleus"], "padding": 0.4297, "align": 0.5727}, "axis": {"title": "Leg muscle", "labelExpr": "datum.value == 'Vastus lateralis' ? ['Vastus', 'lateralis'] : datum.value == 'Biceps femoris long head' ? ['Biceps', 'femoris', 'long head'] : datum.value == 'Medial gastrocnemius' ? ['Medial', 'gastrocnemius'] : datum.value"}},
        "xOffset": {"field": "gi", "type": "quantitative", "scale": {"domain": [-1, 1], "range": [-130, 130]}},
        "y": {"field": "lo", "type": "quantitative", "scale": {"domain": [17.486, 80], "nice": false, "zero": false}, "axis": {"title": "MRI-T₂, ms", "values": [20, 40, 60, 80]}}
       }
      },
      {
       "mark": {"type": "tick", "orient": "horizontal", "color": "#000", "size": 40, "thickness": 2},
       "encoding": {
        "x": {"field": "muscle", "type": "nominal", "scale": {"type": "point", "domain": ["Vastus lateralis", "Biceps femoris long head", "Medial gastrocnemius", "Peroneals", "Soleus"], "padding": 0.4297, "align": 0.5727}, "axis": {"title": "Leg muscle", "labelExpr": "datum.value == 'Vastus lateralis' ? ['Vastus', 'lateralis'] : datum.value == 'Biceps femoris long head' ? ['Biceps', 'femoris', 'long head'] : datum.value == 'Medial gastrocnemius' ? ['Medial', 'gastrocnemius'] : datum.value"}},
        "xOffset": {"field": "gi", "type": "quantitative", "scale": {"domain": [-1, 1], "range": [-130, 130]}},
        "y": {"field": "hi", "type": "quantitative", "scale": {"domain": [17.486, 80], "nice": false, "zero": false}, "axis": {"title": "MRI-T₂, ms", "values": [20, 40, 60, 80]}}
       }
      }
     ]
    },
    {
     "data": {"name": "t2"},
     "transform": [
      {"calculate": "datum.group === 'Control' ? -1 : datum.group === 'DMD' ? 0 : 1", "as": "gi"},
      {"calculate": "floor(datum.value / 0.95)", "as": "bin"},
      {"window": [{"op": "row_number", "as": "rn"}], "groupby": ["muscle", "group", "bin"], "sort": [{"field": "value", "order": "ascending"}]},
      {"joinaggregate": [{"op": "count", "as": "cnt"}], "groupby": ["muscle", "group", "bin"]},
      {"calculate": "datum.gi + (datum.rn - (datum.cnt + 1) / 2) * 0.12", "as": "off"}
     ],
     "mark": {"type": "circle", "size": 270, "opacity": 0.53},
     "encoding": {
      "x": {"field": "muscle", "type": "nominal", "scale": {"type": "point", "domain": ["Vastus lateralis", "Biceps femoris long head", "Medial gastrocnemius", "Peroneals", "Soleus"], "padding": 0.4297, "align": 0.5727}, "axis": {"title": "Leg muscle", "labelExpr": "datum.value == 'Vastus lateralis' ? ['Vastus', 'lateralis'] : datum.value == 'Biceps femoris long head' ? ['Biceps', 'femoris', 'long head'] : datum.value == 'Medial gastrocnemius' ? ['Medial', 'gastrocnemius'] : datum.value"}},
      "xOffset": {"field": "off", "type": "quantitative", "scale": {"domain": [-1, 1], "range": [-130, 130]}},
      "y": {"field": "value", "type": "quantitative", "scale": {"domain": [17.486, 80], "nice": false, "zero": false}, "axis": {"title": "MRI-T₂, ms", "values": [20, 40, 60, 80]}},
      "color": {"field": "group", "type": "nominal",
                "scale": {"domain": ["Control", "DMD", "SRP-9001"], "range": ["#0d5160", "#ff7f00", "#5bd5f7"]},
                "legend": null}
     }
    },
    {
     "data": {"name": "statsB"},
     "transform": [
      {"calculate": "datum.group === 'Control' ? -1 : datum.group === 'DMD' ? 0 : 1", "as": "gi"}
     ],
     "mark": {"type": "tick", "orient": "horizontal", "color": "#000", "size": 98, "thickness": 5},
     "encoding": {
      "x": {"field": "muscle", "type": "nominal", "scale": {"type": "point", "domain": ["Vastus lateralis", "Biceps femoris long head", "Medial gastrocnemius", "Peroneals", "Soleus"], "padding": 0.4297, "align": 0.5727}, "axis": {"title": "Leg muscle", "labelExpr": "datum.value == 'Vastus lateralis' ? ['Vastus', 'lateralis'] : datum.value == 'Biceps femoris long head' ? ['Biceps', 'femoris', 'long head'] : datum.value == 'Medial gastrocnemius' ? ['Medial', 'gastrocnemius'] : datum.value"}},
      "xOffset": {"field": "gi", "type": "quantitative", "scale": {"domain": [-1, 1], "range": [-130, 130]}},
      "y": {"field": "mean", "type": "quantitative", "scale": {"domain": [17.486, 80], "nice": false, "zero": false}, "axis": {"title": "MRI-T₂, ms", "values": [20, 40, 60, 80]}}
     }
    }
   ]
  }
 ]
}
